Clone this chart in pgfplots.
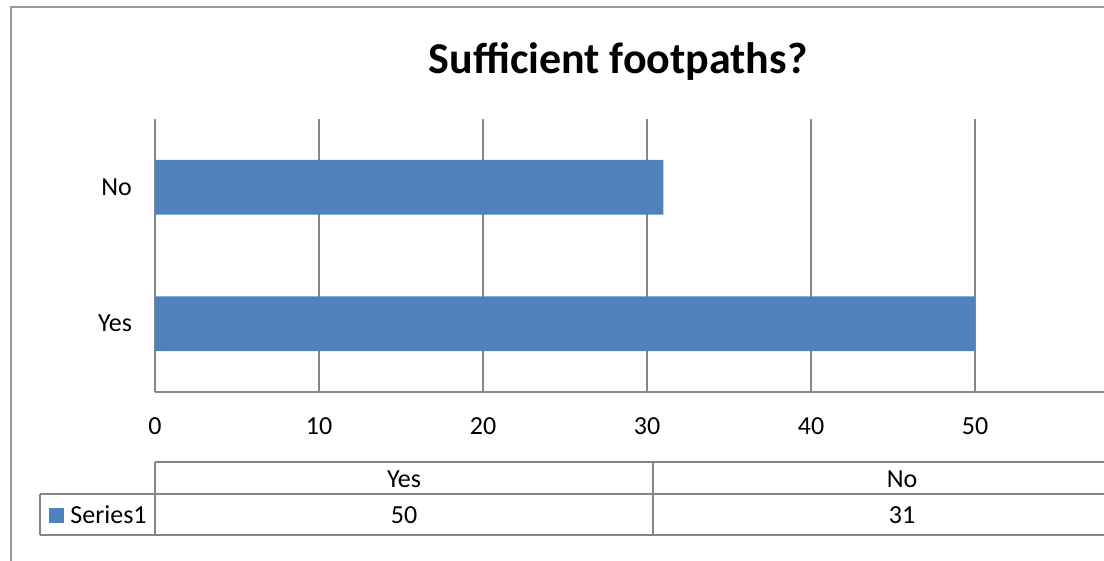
\documentclass[border=0pt]{standalone}
\usepackage{fontspec}
\setmainfont{Carlito}
\usepackage{pgfplots}
\pgfplotsset{compat=1.18}
\definecolor{barblue}{HTML}{4F81BD}
\definecolor{gridgray}{HTML}{868686}
\newcommand{\lblfont}{\fontsize{13}{15.5}\selectfont}
\begin{document}
\begin{tikzpicture}
\path[use as bounding box, clip] (0,0) rectangle (552pt,-280.5pt);
\begin{scope}[x=0.5pt,y=-0.5pt]
  % chart frame
  \draw[gridgray!85, line width=1pt] (10.5,7.5) rectangle (1300,700);
  \node[font=\fontsize{22}{26}\selectfont\bfseries] at (618,61) {Sufficient footpaths?};
  % data table
  \draw[gridgray, line width=0.6pt]
    (155,462) -- (1300,462) (40,494) -- (1300,494) (40,535) -- (1300,535)
    (40,494) -- (40,535) (155,462) -- (155,535) (653,462) -- (653,535);
  \fill[barblue] (49,508) rectangle (64,523);
  \node[anchor=west, font=\lblfont, inner sep=0pt] at (70,515) {Series1};
  \node[font=\lblfont] at (404,479) {Yes};
  \node[font=\lblfont] at (902,479) {No};
  \node[font=\lblfont] at (404,515) {50};
  \node[font=\lblfont] at (902,515) {31};
\end{scope}
\begin{axis}[
    at={(77.5pt,-196pt)}, anchor=south west,
    scale only axis, width=492pt, height=136.5pt,
    xbar, bar width=0.4,
    xmin=0, xmax=60, ymin=-0.5, ymax=1.5,
    xtick={0,10,...,50}, ytick={0,1}, yticklabels={Yes,No},
    extra x ticks={60}, extra x tick labels={},
    axis x line=bottom, axis y line=left,
    axis line style={-, gridgray, line width=0.6pt},
    xmajorgrids, grid style={gridgray, line width=0.6pt},
    major tick length=0pt,
    tick label style={font=\lblfont},
    /pgf/number format/assume math mode=true,
    xticklabel style={yshift=-9.5pt},
    yticklabel style={xshift=-8pt},
  ]
  \addplot[fill=barblue, draw=none] coordinates {(50,0) (31,1)};
\end{axis}
\end{tikzpicture}
\end{document}
